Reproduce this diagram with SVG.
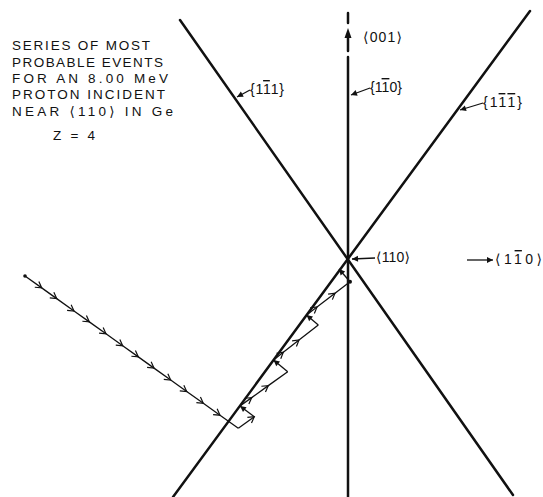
<svg xmlns="http://www.w3.org/2000/svg" width="543" height="497" viewBox="0 0 543 497">
<style>
.t{font-family:"Liberation Sans","DejaVu Sans",sans-serif;font-size:14px;fill:#111}
.h{font-family:"Liberation Sans","DejaVu Sans",sans-serif;font-size:13.5px;fill:#111}
.axis{stroke:#111;stroke-width:2.5;fill:none;stroke-linecap:round}
.lead{stroke:#111;stroke-width:1.3;fill:none}
.trj{stroke:#111;stroke-width:1.3;fill:none;stroke-linejoin:miter}
</style>
<defs>
<marker id="open" markerUnits="userSpaceOnUse" markerWidth="10" markerHeight="10" viewBox="-8 -5 10 10" refX="0" refY="0" orient="auto">
<path d="M-6,-3.5 L0,0 L-6,3.5" fill="none" stroke="#111" stroke-width="1.2"/>
</marker>
<marker id="fill" markerUnits="userSpaceOnUse" markerWidth="10" markerHeight="10" viewBox="-8 -5 10 10" refX="0" refY="0" orient="auto">
<path d="M-6,-3 L0,0 L-6,3 Z" fill="#111"/>
</marker>
</defs>
<g id="title">
<text class="h" x="12" y="50" textLength="138" lengthAdjust="spacing">SERIES OF MOST</text>
<text class="h" x="12" y="67" textLength="151" lengthAdjust="spacing">PROBABLE EVENTS</text>
<text class="h" x="12" y="83" textLength="156" lengthAdjust="spacing">FOR AN 8.00 MeV</text>
<text class="h" x="12" y="99" textLength="153" lengthAdjust="spacing">PROTON INCIDENT</text>
<text class="h" x="12" y="116" textLength="161" lengthAdjust="spacing">NEAR ⟨110⟩ IN Ge</text>
<text class="h" x="53" y="140" textLength="42" lengthAdjust="spacing">Z = 4</text>
</g>
<g id="plane-1-11">
<line class="axis" x1="180" y1="20" x2="513" y2="495"/>
<text class="t" x="250" y="94" textLength="34" lengthAdjust="spacing">{1<tspan text-decoration="overline">1</tspan>1}</text>
</g>
<g id="plane-1-10">
<line class="axis" x1="348" y1="13" x2="348" y2="23"/>
<line class="axis" x1="348" y1="36" x2="348" y2="51"/>
<polygon points="348,28 344.5,38 351.5,38" fill="#111"/>
<line class="axis" x1="348" y1="57" x2="348" y2="497"/>
<text class="t" x="370" y="92" textLength="32" lengthAdjust="spacing">{1<tspan text-decoration="overline">1</tspan>0}</text>
</g>
<g id="plane-1-1-1">
<line class="axis" x1="173" y1="497" x2="530" y2="11"/>
<text class="t" x="483" y="107" textLength="39" lengthAdjust="spacing">{1<tspan text-decoration="overline">1</tspan><tspan text-decoration="overline">1</tspan>}</text>
</g>
<g id="axis-001">
<text class="t" x="363" y="42" textLength="39" lengthAdjust="spacing">⟨001⟩</text>
</g>
<g id="axis-110">
<text class="t" x="376" y="262" textLength="34" lengthAdjust="spacing">⟨110⟩</text>
</g>
<g id="axis-1-10">
<text class="t" x="495" y="264" textLength="47" lengthAdjust="spacing">⟨1<tspan text-decoration="overline">1</tspan>0⟩</text>
</g>
<g id="connectors">
<line class="lead" x1="250" y1="90" x2="237" y2="97" marker-end="url(#fill)"/>
<line class="lead" x1="370" y1="88" x2="351" y2="95" marker-end="url(#fill)"/>
<line class="lead" x1="483" y1="103" x2="460" y2="110" marker-end="url(#fill)"/>
<line class="lead" x1="375" y1="258" x2="352" y2="259" marker-end="url(#fill)"/>
<line class="lead" x1="467" y1="260" x2="493" y2="260" marker-end="url(#fill)"/>
<circle cx="25" cy="276" r="1.8" fill="#111"/>
<polyline class="trj" marker-mid="url(#open)" points="25,276 41.7,287.9 56.7,298.6 74,311 89.3,321.9 106,333.8 122.7,345.8 138.3,356.9 154,368.1 170.7,380 186.7,391.5 203.3,403.3 220,415.2 238.3,428.3"/>
<polyline class="trj" marker-end="url(#open)" points="238.3,428.3 254.3,416.7"/>
<polyline class="trj" marker-end="url(#fill)" points="254.3,416.7 240,406"/>
<polyline class="trj" marker-mid="url(#open)" points="240,406 251.7,397.6 268.3,385.6 287.7,371.7"/>
<polyline class="trj" marker-end="url(#fill)" points="287.7,371.7 273.5,360"/>
<polyline class="trj" marker-mid="url(#open)" points="273.5,360 283.3,352.3 299,340 318.3,325"/>
<polyline class="trj" marker-end="url(#fill)" points="318.3,325 306.5,315"/>
<polyline class="trj" marker-mid="url(#open)" points="306.5,315 317,307 335,293.2 350,281.7"/>
<circle cx="350" cy="281.7" r="2" fill="#111"/>
<polyline class="trj" marker-end="url(#fill)" points="350,281.7 339,269"/>
</g>
</svg>
